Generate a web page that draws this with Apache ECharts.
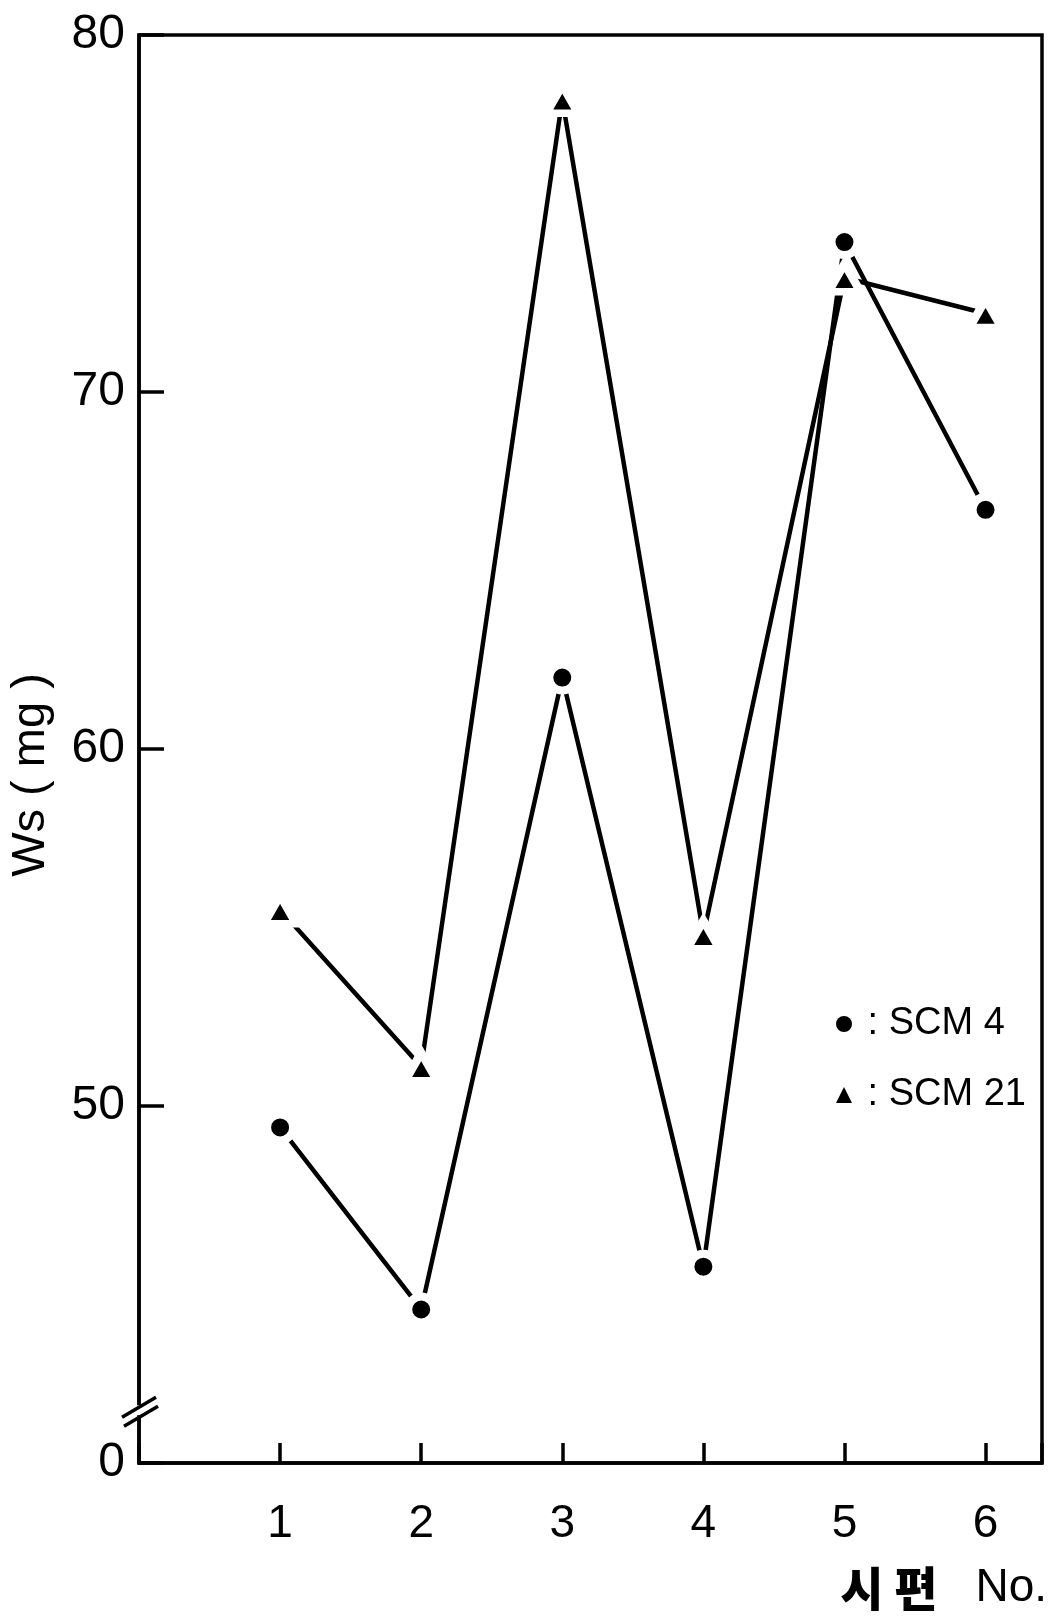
<!DOCTYPE html>
<html><head><meta charset="utf-8">
<script src="https://cdn.jsdelivr.net/npm/echarts@6/dist/echarts.min.js"></script>
<style>html,body{margin:0;padding:0;background:#fff}#c{width:1059px;height:1619px}</style>
</head><body><div id="c"></div>
<script>
const specimenNo = [1, 2, 3, 4, 5, 6];
const scm4 = [49.4, 44.3, 62.0, 45.5, 74.2, 66.7];
const scm21 = [55.5, 51.1, 78.2, 54.8, 73.2, 72.2];
const yTicks = [40, 50, 60, 70, 80];
const yTickLabels = ['0', '50', '60', '70', '80'];
const seriesNames = ['SCM4', 'SCM21'];

const FONT = 'Liberation Sans';
const chart = echarts.init(document.getElementById('c'), null, {renderer: 'canvas'});
const pairs = (vals) => specimenNo.map((n, i) => [n, vals[i]]);

const option = {
  backgroundColor: '#fff',
  animation: false,
  grid: {left: 137, top: 35, right: 17, bottom: 156, show: true, borderColor: '#000', borderWidth: 3.5, backgroundColor: 'transparent'},
  legend: {
    orient: 'vertical', left: 836, top: 1005, itemGap: 33, padding: 0,
    itemWidth: 16, itemHeight: 16,
    formatter: (n) => ' : ' + n.replace(/(\d+)/, ' $1'),
    textStyle: {fontFamily: FONT, fontSize: 38, color: '#000'},
    data: [
      {name: seriesNames[0], icon: 'circle', itemStyle: {color: '#000', borderWidth: 0}},
      {name: seriesNames[1], icon: 'triangle', itemStyle: {color: '#000', borderWidth: 0}}
    ]
  },
  xAxis: {
    type: 'value', min: 0, max: 6.4, interval: 1,
    axisLine: {show: true, onZero: false, lineStyle: {color: '#000', width: 3.5}},
    axisTick: {show: true, inside: true, length: 20, lineStyle: {color: '#000', width: 3.5}},
    splitLine: {show: false},
    axisLabel: {
      margin: 38, fontFamily: FONT, fontSize: 46, color: '#000',
      formatter: (v) => specimenNo.includes(v) ? String(v) : ''
    },
    name: '{k|시 편}{g|}{n|No.}', nameLocation: 'end',
    nameTextStyle: {
      align: 'right', verticalAlign: 'top', padding: [102, 10, 0, 0],
      rich: {
        k: {fontFamily: 'Noto Sans CJK KR', fontWeight: 900, fontSize: 47, color: '#000'},
        g: {width: 38},
        n: {fontFamily: FONT, fontSize: 46, color: '#000'}
      }
    }
  },
  yAxis: {
    type: 'value', min: 40, max: 80, interval: 10,
    axisLine: {show: true, lineStyle: {color: '#000', width: 3.5}},
    axisTick: {show: true, inside: true, length: 25, lineStyle: {color: '#000', width: 3.5}},
    splitLine: {show: false},
    axisLabel: {
      margin: 14, fontFamily: FONT, fontSize: 48, color: '#000',
      formatter: (v) => { const i = yTicks.indexOf(v); return i >= 0 ? yTickLabels[i] : ''; }
    },
    name: 'Ws ( mg )', nameLocation: 'middle', nameRotate: 90, nameGap: 84,
    nameTextStyle: {fontFamily: FONT, fontSize: 47, color: '#000', padding: [0, 52, 0, 0]}
  },
  series: [
    {
      name: seriesNames[0], type: 'line', data: pairs(scm4),
      symbol: 'circle', symbolSize: 26,
      lineStyle: {color: '#000', width: 4.5},
      itemStyle: {color: '#000', borderColor: '#fff', borderWidth: 8}
    },
    {
      name: seriesNames[1], type: 'line', data: pairs(scm21),
      symbol: 'triangle', symbolSize: [32, 28],
      lineStyle: {color: '#000', width: 4.5},
      itemStyle: {color: '#000', borderColor: '#fff', borderWidth: 8}
    }
  ]
};
chart.setOption(option);

// axis break symbol "//" on y-axis
const p = chart.convertToPixel({gridIndex: 0}, [0, 41.45]);
const mk = (dx, dy) => ({
  type: 'line', shape: {x1: p[0] - 17 + dx, y1: p[1] + 10 + dy, x2: p[0] + 17 + dx, y2: p[1] - 10 + dy},
  style: {stroke: '#000', lineWidth: 3.5}, z: 100
});
chart.setOption({graphic: [
  {type: 'rect', shape: {x: p[0] - 3, y: p[1] - 6, width: 6, height: 10}, style: {fill: '#fff'}, z: 99},
  mk(0, -4), mk(2, 5)
]});
</script></body></html>
